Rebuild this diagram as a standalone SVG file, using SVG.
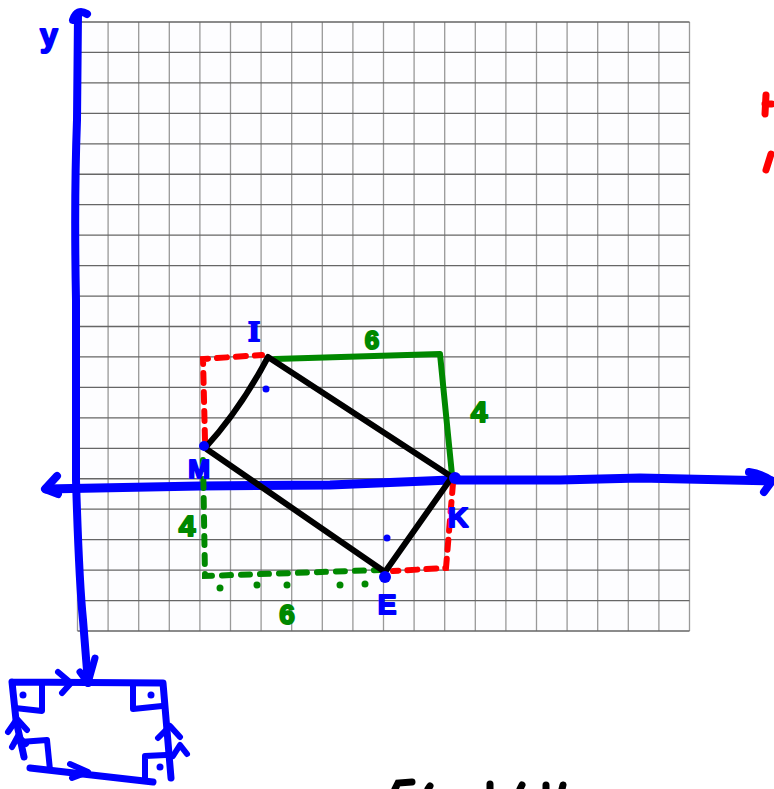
<svg xmlns="http://www.w3.org/2000/svg" width="774" height="789" viewBox="0 0 774 789">
<style>
.gv{stroke:#999;stroke-width:1.3;fill:none}
.gh{stroke:#666;stroke-width:1.3;fill:none}
.blue{stroke:#0000ff;fill:none;stroke-linecap:round;stroke-linejoin:round}
.blk{stroke:#000;stroke-width:6;fill:none;stroke-linecap:round;stroke-linejoin:round}
.red{stroke:#ff0000;stroke-width:6;fill:none;stroke-linecap:round;stroke-dasharray:10 9}
.grn{stroke:#008800;stroke-width:6;fill:none;stroke-linecap:round;stroke-linejoin:round}
.grnd{stroke:#008800;stroke-width:6;fill:none;stroke-linecap:round;stroke-dasharray:9 10}
.lb{font-family:"Liberation Sans",Arial,sans-serif;font-weight:bold;fill:#0000ff;stroke:#0000ff;stroke-width:2;stroke-linejoin:round;text-anchor:middle}
.lg{font-family:"Liberation Sans",Arial,sans-serif;font-weight:bold;fill:#008800;stroke:#008800;stroke-width:2;stroke-linejoin:round;text-anchor:middle}
</style>
<rect width="774" height="789" fill="#fff"/>
<g id="grid">
<rect x="77.5" y="22" width="612" height="609" fill="#fdfdff"/>
<path class="gv" d="M77.5 22V631M108.1 22V631M138.7 22V631M169.3 22V631M199.9 22V631M230.5 22V631M261.1 22V631M291.7 22V631M322.3 22V631M352.9 22V631M383.5 22V631M414.1 22V631M444.7 22V631M475.3 22V631M505.9 22V631M536.5 22V631M567.1 22V631M597.7 22V631M628.3 22V631M658.9 22V631M689.5 22V631"/>
<path class="gh" d="M77.5 22H689.5M77.5 52.45H689.5M77.5 82.9H689.5M77.5 113.35H689.5M77.5 143.8H689.5M77.5 174.25H689.5M77.5 204.7H689.5M77.5 235.15H689.5M77.5 265.6H689.5M77.5 296.05H689.5M77.5 326.5H689.5M77.5 356.95H689.5M77.5 387.4H689.5M77.5 417.85H689.5M77.5 448.3H689.5M77.5 478.75H689.5M77.5 509.2H689.5M77.5 539.65H689.5M77.5 570.1H689.5M77.5 600.55H689.5M77.5 631H689.5"/>
</g>
<g id="axes">
<path class="blue" stroke-width="8" d="M73 20Q77 8 87 14M78 14L77 120Q74 200 76 300L76 480Q79 580 83 620L88 683"/>
<path class="blue" stroke-width="7" d="M80 672L88 683L95 658"/>
<path class="blue" stroke-width="9" d="M46 489L200 486L330 485L450 480L560 480L640 478L772 481"/>
<path class="blue" stroke-width="8" d="M57 476L45 489L58 494M749 472Q762 474 772 481L764 492"/>
<text class="lb" x="49" y="46" font-size="32">y</text>
</g>
<g id="frame">
<path class="red" d="M205 440L203 359L262 355"/>
<path class="red" d="M453 483L446 568L393 571"/>
<path class="grn" d="M275 359L440 354L452 475"/>
<path class="grnd" d="M203 460L205 576L380 570"/>
<g fill="#008800"><circle cx="220" cy="588" r="3.5"/><circle cx="257" cy="585" r="3.5"/><circle cx="287" cy="585" r="3.5"/><circle cx="340" cy="585" r="3.5"/><circle cx="365" cy="584" r="3.5"/></g>
<text class="lg" x="372" y="349" font-size="26">6</text>
<text class="lg" x="479" y="422" font-size="30">4</text>
<text class="lg" x="187" y="536" font-size="30">4</text>
<text class="lg" x="287" y="624" font-size="28">6</text>
</g>
<g id="square">
<path class="blk" d="M205 448Q240 410 268 357L452 477L385 572L205 448"/>
<g fill="#0000ff"><circle cx="204" cy="446" r="5"/><circle cx="455" cy="478" r="6"/><circle cx="385" cy="577" r="6"/><circle cx="266" cy="389" r="3.5"/><circle cx="387" cy="538" r="3.5"/></g>
<text x="254" y="341" font-family="Liberation Serif,serif" font-weight="bold" font-size="30" fill="#0000ff" stroke="#0000ff" stroke-width="2" text-anchor="middle">I</text>
<text class="lb" x="199" y="478" font-size="26">M</text>
<text class="lb" x="458" y="527" font-size="28">K</text>
<text class="lb" x="387" y="614" font-size="28">E</text>
</g>
<g id="box">
<path class="blue" stroke-width="7" d="M12 682L163 683L171 778M12 682L16 720L24 757M30 768L153 782"/>
<path class="blue" stroke-width="6" d="M15 708L42 711L42 684M133 684L133 709L162 706M145 778L145 756L166 755M20 742L47 740L50 770"/>
<path class="blue" stroke-width="6" d="M58 672L71 683L62 693M70 764L88 772L72 778M8 732L17 719L27 730M12 747L18 736L26 744M158 738L170 726L180 737M173 756L180 745L187 754"/>
<g fill="#0000ff"><circle cx="23" cy="695" r="3.5"/><circle cx="151" cy="695" r="3.5"/><circle cx="160" cy="767" r="3.5"/></g>
</g>
<g id="marks">
<path stroke="#ff0000" stroke-width="7" stroke-linecap="round" fill="none" d="M766 95L765 114M765 104L772 104M766 170L771 154"/>
<path stroke="#000" stroke-width="7" stroke-linecap="round" fill="none" d="M395 789L398 783L412 782M428 789L430 786M490 789L490 784M520 789L522 785M546 789L546 785M562 789L563 785"/>
</g>
</svg>
